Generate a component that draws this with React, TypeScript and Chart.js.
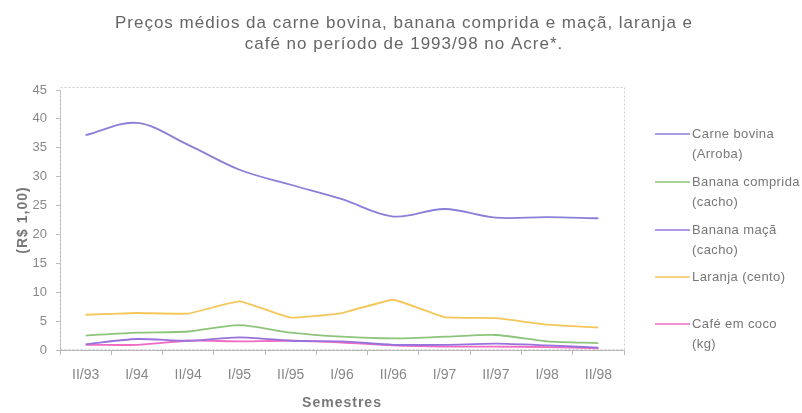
import React, { useEffect, useRef } from "react";
import { Chart, registerables } from "chart.js";

Chart.register(...registerables);

const categories = ["II/93", "I/94", "II/94", "I/95", "II/95", "I/96", "II/96", "I/97", "II/97", "I/98", "II/98"];
const carneBovina = [37.2, 39.3, 35.5, 31.2, 28.6, 26.1, 23.1, 24.4, 22.9, 23.0, 22.8];
const bananaComprida = [2.5, 3.0, 3.2, 4.3, 3.0, 2.3, 2.0, 2.3, 2.6, 1.5, 1.2];
const bananaMaca = [1.0, 1.9, 1.6, 2.2, 1.6, 1.5, 0.9, 0.9, 1.1, 0.8, 0.4];
const laranja = [6.1, 6.4, 6.3, 8.4, 5.6, 6.4, 8.7, 5.7, 5.5, 4.4, 3.9];
const cafe = [0.9, 0.9, 1.6, 1.5, 1.6, 1.3, 0.8, 0.6, 0.6, 0.5, 0.3];

const titleLines = [
  "Preços médios da carne bovina, banana comprida e maçã, laranja e",
  "café no período de 1993/98 no Acre*.",
];
const legendLabels = [
  ["Carne bovina", "(Arroba)"],
  ["Banana comprida", "(cacho)"],
  ["Banana maçã", "(cacho)"],
  ["Laranja (cento)"],
  ["Café em coco", "(kg)"],
];
const xTitle = "Semestres";
const yTitle = "(R$ 1,00)";

const FONT = '"Liberation Sans", Arial, sans-serif';

const decorPlugin = {
  id: "decor",
  beforeDatasetsDraw(chart: any) {
    const { ctx, chartArea } = chart;
    ctx.save();
    ctx.strokeStyle = "#cfcfcf";
    ctx.lineWidth = 1;
    ctx.setLineDash([2, 2]);
    ctx.strokeRect(chartArea.left + 0.5, chartArea.top - 2.5, chartArea.right - chartArea.left, chartArea.bottom - chartArea.top + 2);
    ctx.restore();
  },
  afterDraw(chart: any) {
    const { ctx, chartArea } = chart;
    ctx.save();
    // title
    ctx.fillStyle = "#666";
    ctx.font = `17px ${FONT}`;
    (ctx as any).letterSpacing = "1px";
    ctx.textAlign = "center";
    ctx.textBaseline = "middle";
    ctx.fillText(titleLines[0], 404, 23);
    ctx.fillText(titleLines[1], 404, 44);
    // axis titles
    ctx.fillStyle = "#777";
    ctx.font = `bold 14px ${FONT}`;
    (ctx as any).letterSpacing = "1px";
    ctx.fillText(xTitle, (chartArea.left + chartArea.right) / 2, 403);
    ctx.save();
    ctx.translate(23, (chartArea.top + chartArea.bottom) / 2);
    ctx.rotate(-Math.PI / 2);
    ctx.fillText(yTitle, 0, 0);
    ctx.restore();
    // legend
    const lineYs = [134, 182, 230, 277, 324];
    ctx.font = `13px ${FONT}`;
    ctx.textAlign = "left";
    (ctx as any).letterSpacing = "0.4px";
    chart.data.datasets.forEach((ds: any, i: number) => {
      const y = lineYs[i];
      ctx.strokeStyle = ds.borderColor;
      ctx.lineWidth = 1.5;
      ctx.beginPath();
      ctx.moveTo(655, y);
      ctx.lineTo(690, y);
      ctx.stroke();
      ctx.fillStyle = "#777";
      legendLabels[i].forEach((t, j) => {
        ctx.fillText(t, 692, y + j * 20);
      });
    });
    ctx.restore();
  },
};

export default function App() {
  const ref = useRef<HTMLCanvasElement>(null);
  useEffect(() => {
    document.body.style.margin = "0";
    const mk = (label: string, data: number[], color: string, tension: number) => ({
      label,
      data,
      borderColor: color,
      backgroundColor: color,
      borderWidth: 1.8,
      pointRadius: 0,
      tension,
      fill: false,
    });
    const chart = new Chart(ref.current!, {
      type: "line",
      data: {
        labels: categories,
        datasets: [
          mk("Carne bovina (Arroba)", carneBovina, "#8a7fd8", 0.35),
          mk("Banana comprida (cacho)", bananaComprida, "#8cc47a", 0.25),
          mk("Banana maçã (cacho)", bananaMaca, "#9a72dc", 0.25),
          mk("Laranja (cento)", laranja, "#f5c65a", 0.1),
          mk("Café em coco (kg)", cafe, "#f06cc4", 0.25),
        ],
      },
      options: {
        responsive: false,
        animation: false,
        layout: { padding: { top: 90, right: 178, left: 0, bottom: 0 } },
        plugins: {
          legend: { display: false },
          title: { display: false },
          tooltip: { enabled: false },
        },
        scales: {
          x: {
            offset: true,
            grid: { display: true, drawOnChartArea: false, drawTicks: true, tickLength: 5, color: "#bbb", offset: true },
            border: { display: true, color: "#b8b8b8", dash: [2, 2] },
            ticks: { color: "#888", font: { size: 14, family: FONT }, padding: 12, maxRotation: 0, autoSkip: false },
            afterFit: (s: any) => {
              s.height = 63;
            },
          },
          y: {
            min: 0,
            max: 45,
            grid: { display: true, drawOnChartArea: false, drawTicks: true, tickLength: 4, color: "#bbb" },
            border: { display: true, color: "#b8b8b8", dash: [2, 2] },
            ticks: { stepSize: 5, color: "#888", font: { size: 13, family: FONT }, padding: 9 },
            afterFit: (s: any) => {
              s.width = 60;
            },
          },
        },
      },
      plugins: [decorPlugin],
    });
    return () => chart.destroy();
  }, []);
  return <canvas ref={ref} width={802} height={413} style={{ display: "block" }} />;
}
